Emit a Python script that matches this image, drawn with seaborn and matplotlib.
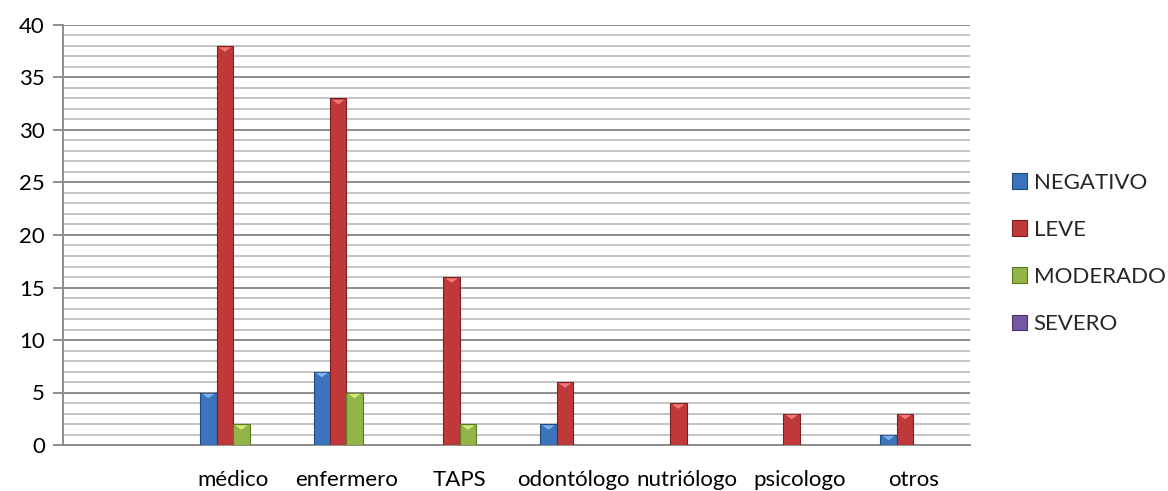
import matplotlib
matplotlib.use("Agg")
import matplotlib.pyplot as plt
from matplotlib.patches import Polygon
from matplotlib.ticker import MultipleLocator
import numpy as np
import pandas as pd
import seaborn as sns

categories = ["", "médico", "enfermero", "TAPS", "odontólogo", "nutriólogo", "psicologo", "otros"]
series = ["NEGATIVO", "LEVE", "MODERADO", "SEVERO"]
negativo = [np.nan, 5, 7, 0, 2, 0, 0, 1]
leve = [np.nan, 38, 33, 16, 6, 4, 3, 3]
moderado = [np.nan, 2, 5, 2, 0, 0, 0, 0]
severo = [np.nan, 0, 0, 0, 0, 0, 0, 0]
colors = ["#3B74BC", "#C0393A", "#93B447", "#7556A0"]
edges = ["#1F4A80", "#7A1F20", "#5E7A25", "#4A3470"]
tips = ["#7FB2EE", "#F07878", "#D2EC7A", "#B89AE0"]

rows = []
for name, vals in zip(series, [negativo, leve, moderado, severo]):
    for cat, v in zip(categories, vals):
        rows.append({"categoria": cat, "serie": name, "valor": v})
df = pd.DataFrame(rows)

sns.set_theme(style="white")
plt.rcParams["font.family"] = ["Lato", "DejaVu Sans"]

fig = plt.figure(figsize=(11.68, 4.91), dpi=100)
ax = fig.add_axes([63 / 1168, 46 / 491, 907 / 1168, 420 / 491])

sns.barplot(data=df, x="categoria", y="valor", hue="serie", order=categories,
            hue_order=series, palette=colors, width=0.58, errorbar=None,
            saturation=1, ax=ax, legend=True, zorder=3)

# bevelled look: darker outline plus a light wedge at the top of each bar
for container, ec, tc in zip(ax.containers, edges, tips):
    for bar in container:
        h = bar.get_height()
        if not np.isfinite(h) or h <= 0:
            bar.set_visible(False)
            continue
        bar.set_edgecolor(ec)
        bar.set_linewidth(0.8)
        x0, w = bar.get_x(), bar.get_width()
        dy = 0.55
        ax.add_patch(Polygon([(x0 + w * 0.12, h - 0.12), (x0 + w * 0.88, h - 0.12),
                              (x0 + w / 2, h - dy)], closed=True,
                             facecolor=tc, edgecolor="none", zorder=4))

ax.set_ylim(0, 40)
ax.set_xlim(-0.5, len(categories) - 0.5)
ax.yaxis.set_major_locator(MultipleLocator(5))
ax.yaxis.set_minor_locator(MultipleLocator(1))
ax.grid(which="major", axis="y", color="#8C8C8C", linewidth=1.4, zorder=0)
ax.grid(which="minor", axis="y", color="#C4C4C4", linewidth=1.4, zorder=0)
ax.grid(False, axis="x")
ax.set_axisbelow(True)

for side in ["top", "right"]:
    ax.spines[side].set_visible(False)
ax.spines["left"].set_color("#8C8C8C")
ax.spines["bottom"].set_color("#8C8C8C")
ax.spines["left"].set_linewidth(1.4)
ax.spines["bottom"].set_linewidth(1.4)

ax.tick_params(axis="y", which="major", left=True, length=7, width=1.4,
               color="#8C8C8C", labelsize=16, pad=6, labelcolor="black")
ax.tick_params(axis="y", which="minor", left=False)
ax.tick_params(axis="x", bottom=False, labelsize=16, pad=12, labelcolor="black")
ax.set_xlabel("")
ax.set_ylabel("")

handles, labels = ax.get_legend_handles_labels()
leg = ax.legend(handles, labels, loc="center left", bbox_to_anchor=(1.036, 0.456),
                frameon=False, fontsize=16, handlelength=0.7, handleheight=0.7,
                handletextpad=0.3, labelspacing=1.22, borderaxespad=0)
for h, ec in zip(leg.legend_handles, edges):
    h.set_edgecolor(ec)
    h.set_linewidth(0.8)

fig.savefig("out.png", dpi=100)
